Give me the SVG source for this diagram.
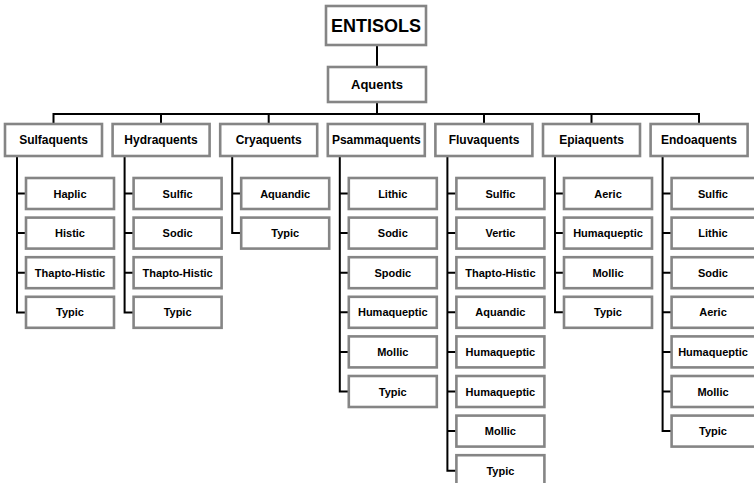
<svg xmlns="http://www.w3.org/2000/svg" width="754" height="483" viewBox="0 0 754 483">
<style>
rect.b{fill:#fff;stroke:#858585;stroke-width:2.6}
text{font-family:"Comic Sans MS","Liberation Sans",Arial,sans-serif;font-weight:bold;fill:#000;text-anchor:middle}
.t0{font-size:18px}.t1{font-size:13px}.t2{font-size:12px}.t3{font-size:11px}
.c{fill:none;stroke:#000;stroke-width:2}
</style>
<rect width="754" height="483" fill="#fff"/>
<g id="connectors">
<path class="c" d="M377 45V67M377 102V114M53.5 124V114H699V124M161 114V124M268.7 114V124M484 114V124M591.5 114V124"/>
<path class="c" d="M17 156V312.5H26M17 193.5H26M17 233.1H26M17 272.7H26"/>
<path class="c" d="M124.6 156V312.5H133.6M124.6 193.5H133.6M124.6 233.1H133.6M124.6 272.7H133.6"/>
<path class="c" d="M232.2 156V233.1H241.2M232.2 193.5H241.2"/>
<path class="c" d="M339.8 156V391.5H348.8M339.8 193.5H348.8M339.8 233.1H348.8M339.8 272.7H348.8M339.8 312.3H348.8M339.8 351.9H348.8"/>
<path class="c" d="M447.4 156V470.7H456.4M447.4 193.5H456.4M447.4 233.1H456.4M447.4 272.7H456.4M447.4 312.3H456.4M447.4 351.9H456.4M447.4 391.5H456.4M447.4 431.1H456.4"/>
<path class="c" d="M555 156V312.3H564M555 193.5H564M555 233.1H564M555 272.7H564"/>
<path class="c" d="M662.6 156V431.1H671.6M662.6 193.5H671.6M662.6 233.1H671.6M662.6 272.7H671.6M662.6 312.3H671.6M662.6 351.9H671.6M662.6 391.5H671.6"/>
</g>
<g id="entisols"><rect class="b" x="326" y="6" width="100" height="39"/><text class="t0" x="376" y="32">ENTISOLS</text></g>
<g id="aquents"><rect class="b" x="328" y="67" width="98" height="35"/><text class="t1" x="377" y="89">Aquents</text></g>
<g id="sulfaquents"><rect class="b" x="5" y="124" width="97" height="32"/><text class="t2" x="53.5" y="144">Sulfaquents</text></g>
<g id="hydraquents"><rect class="b" x="112.6" y="124" width="97" height="32"/><text class="t2" x="161" y="144">Hydraquents</text></g>
<g id="cryaquents"><rect class="b" x="220.2" y="124" width="97" height="32"/><text class="t2" x="268.7" y="144">Cryaquents</text></g>
<g id="psammaquents"><rect class="b" x="327.8" y="124" width="97" height="32"/><text class="t2" x="376.3" y="144">Psammaquents</text></g>
<g id="fluvaquents"><rect class="b" x="435.4" y="124" width="97" height="32"/><text class="t2" x="484" y="144">Fluvaquents</text></g>
<g id="epiaquents"><rect class="b" x="543" y="124" width="97" height="32"/><text class="t2" x="591.5" y="144">Epiaquents</text></g>
<g id="endoaquents"><rect class="b" x="650.6" y="124" width="97" height="32"/><text class="t2" x="699" y="144">Endoaquents</text></g>
<g id="sulf-haplic"><rect class="b" x="26" y="178" width="88" height="31"/><text class="t3" x="70" y="197.5">Haplic</text></g>
<g id="sulf-histic"><rect class="b" x="26" y="217.6" width="88" height="31"/><text class="t3" x="70" y="237.1">Histic</text></g>
<g id="sulf-thapto"><rect class="b" x="26" y="257.2" width="88" height="31"/><text class="t3" x="70" y="276.7">Thapto-Histic</text></g>
<g id="sulf-typic"><rect class="b" x="26" y="296.8" width="88" height="31"/><text class="t3" x="70" y="316.3">Typic</text></g>
<g id="hydr-sulfic"><rect class="b" x="133.6" y="178" width="88" height="31"/><text class="t3" x="177.6" y="197.5">Sulfic</text></g>
<g id="hydr-sodic"><rect class="b" x="133.6" y="217.6" width="88" height="31"/><text class="t3" x="177.6" y="237.1">Sodic</text></g>
<g id="hydr-thapto"><rect class="b" x="133.6" y="257.2" width="88" height="31"/><text class="t3" x="177.6" y="276.7">Thapto-Histic</text></g>
<g id="hydr-typic"><rect class="b" x="133.6" y="296.8" width="88" height="31"/><text class="t3" x="177.6" y="316.3">Typic</text></g>
<g id="crya-aquandic"><rect class="b" x="241.2" y="178" width="88" height="31"/><text class="t3" x="285.2" y="197.5">Aquandic</text></g>
<g id="crya-typic"><rect class="b" x="241.2" y="217.6" width="88" height="31"/><text class="t3" x="285.2" y="237.1">Typic</text></g>
<g id="psam-lithic"><rect class="b" x="348.8" y="178" width="88" height="31"/><text class="t3" x="392.8" y="197.5">Lithic</text></g>
<g id="psam-sodic"><rect class="b" x="348.8" y="217.6" width="88" height="31"/><text class="t3" x="392.8" y="237.1">Sodic</text></g>
<g id="psam-spodic"><rect class="b" x="348.8" y="257.2" width="88" height="31"/><text class="t3" x="392.8" y="276.7">Spodic</text></g>
<g id="psam-humaqueptic"><rect class="b" x="348.8" y="296.8" width="88" height="31"/><text class="t3" x="392.8" y="316.3">Humaqueptic</text></g>
<g id="psam-mollic"><rect class="b" x="348.8" y="336.4" width="88" height="31"/><text class="t3" x="392.8" y="355.9">Mollic</text></g>
<g id="psam-typic"><rect class="b" x="348.8" y="376" width="88" height="31"/><text class="t3" x="392.8" y="395.5">Typic</text></g>
<g id="fluv-sulfic"><rect class="b" x="456.4" y="178" width="88" height="31"/><text class="t3" x="500.4" y="197.5">Sulfic</text></g>
<g id="fluv-vertic"><rect class="b" x="456.4" y="217.6" width="88" height="31"/><text class="t3" x="500.4" y="237.1">Vertic</text></g>
<g id="fluv-thapto"><rect class="b" x="456.4" y="257.2" width="88" height="31"/><text class="t3" x="500.4" y="276.7">Thapto-Histic</text></g>
<g id="fluv-aquandic"><rect class="b" x="456.4" y="296.8" width="88" height="31"/><text class="t3" x="500.4" y="316.3">Aquandic</text></g>
<g id="fluv-humaqueptic1"><rect class="b" x="456.4" y="336.4" width="88" height="31"/><text class="t3" x="500.4" y="355.9">Humaqueptic</text></g>
<g id="fluv-humaqueptic2"><rect class="b" x="456.4" y="376" width="88" height="31"/><text class="t3" x="500.4" y="395.5">Humaqueptic</text></g>
<g id="fluv-mollic"><rect class="b" x="456.4" y="415.6" width="88" height="31"/><text class="t3" x="500.4" y="435.1">Mollic</text></g>
<g id="fluv-typic"><rect class="b" x="456.4" y="455.2" width="88" height="31"/><text class="t3" x="500.4" y="474.7">Typic</text></g>
<g id="epi-aeric"><rect class="b" x="564" y="178" width="88" height="31"/><text class="t3" x="608" y="197.5">Aeric</text></g>
<g id="epi-humaqueptic"><rect class="b" x="564" y="217.6" width="88" height="31"/><text class="t3" x="608" y="237.1">Humaqueptic</text></g>
<g id="epi-mollic"><rect class="b" x="564" y="257.2" width="88" height="31"/><text class="t3" x="608" y="276.7">Mollic</text></g>
<g id="epi-typic"><rect class="b" x="564" y="296.8" width="88" height="31"/><text class="t3" x="608" y="316.3">Typic</text></g>
<g id="endo-sulfic"><rect class="b" x="671.6" y="178" width="88" height="31"/><text class="t3" x="713" y="197.5">Sulfic</text></g>
<g id="endo-lithic"><rect class="b" x="671.6" y="217.6" width="88" height="31"/><text class="t3" x="713" y="237.1">Lithic</text></g>
<g id="endo-sodic"><rect class="b" x="671.6" y="257.2" width="88" height="31"/><text class="t3" x="713" y="276.7">Sodic</text></g>
<g id="endo-aeric"><rect class="b" x="671.6" y="296.8" width="88" height="31"/><text class="t3" x="713" y="316.3">Aeric</text></g>
<g id="endo-humaqueptic"><rect class="b" x="671.6" y="336.4" width="88" height="31"/><text class="t3" x="713" y="355.9">Humaqueptic</text></g>
<g id="endo-mollic"><rect class="b" x="671.6" y="376" width="88" height="31"/><text class="t3" x="713" y="395.5">Mollic</text></g>
<g id="endo-typic"><rect class="b" x="671.6" y="415.6" width="88" height="31"/><text class="t3" x="713" y="435.1">Typic</text></g>
</svg>
